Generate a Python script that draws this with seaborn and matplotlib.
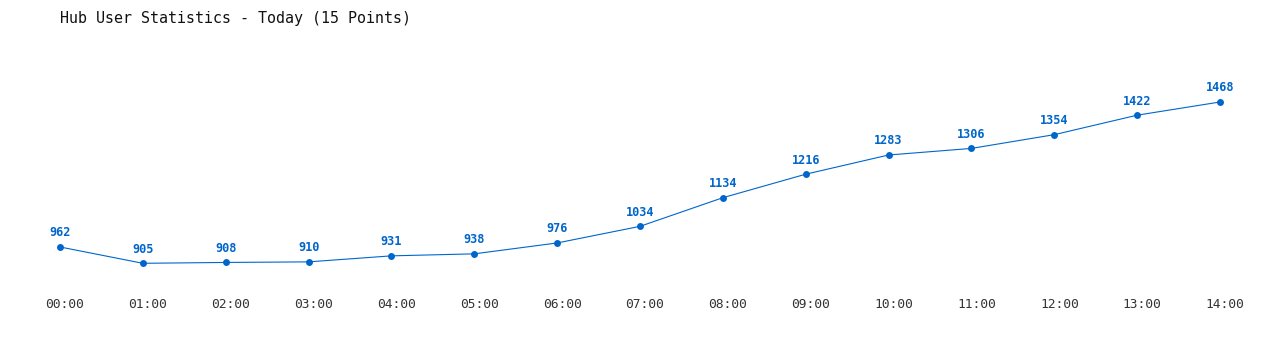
import matplotlib
matplotlib.use("Agg")
import matplotlib.pyplot as plt
import matplotlib.transforms as mtransforms
import seaborn as sns
import pandas as pd

hours = ["00:00", "01:00", "02:00", "03:00", "04:00", "05:00", "06:00", "07:00",
         "08:00", "09:00", "10:00", "11:00", "12:00", "13:00", "14:00"]
users = [962, 905, 908, 910, 931, 938, 976, 1034, 1134, 1216, 1283, 1306, 1354, 1422, 1468]

sns.set_theme(style="white")
plt.rcParams['font.family'] = ['DejaVu Sans Mono']

color = "#0066cc"
df = pd.DataFrame({"idx": list(range(len(hours))), "users": users})

fig = plt.figure(figsize=(12.8, 3.5), dpi=100)
ax = fig.add_axes([60/1280, (350-263.3)/350, (1220-60)/1280, (263.3-102)/350])
sns.lineplot(data=df, x="idx", y="users", ax=ax, color=color, linewidth=0.8,
             marker="o", markersize=5, markeredgewidth=0, clip_on=False)
ax.set_xlim(0, len(hours) - 1)
ax.set_ylim(min(users), max(users))
for i, v in enumerate(users):
    ax.annotate(str(v), (i, v), xytext=(0, 5.5), textcoords="offset points",
                ha="center", va="bottom", fontsize=8.6, fontweight="bold", color=color)
ax.set_xticks(range(len(hours)))
ax.set_xticklabels(hours, fontsize=9.3, color="#333333")
ax.tick_params(axis="x", length=0, pad=25)
shift = mtransforms.ScaledTranslation(5/100, 0, fig.dpi_scale_trans)
for lbl in ax.get_xticklabels():
    lbl.set_transform(lbl.get_transform() + shift)
ax.set_yticks([])
ax.set_xlabel("")
ax.set_ylabel("")
for s in ax.spines.values():
    s.set_visible(False)
fig.text(60/1280, 1 - 18/350, "Hub User Statistics - Today (15 Points)", fontsize=10.8,
         color="#111111", ha="left", va="center")
fig.savefig("out.png", dpi=100)
